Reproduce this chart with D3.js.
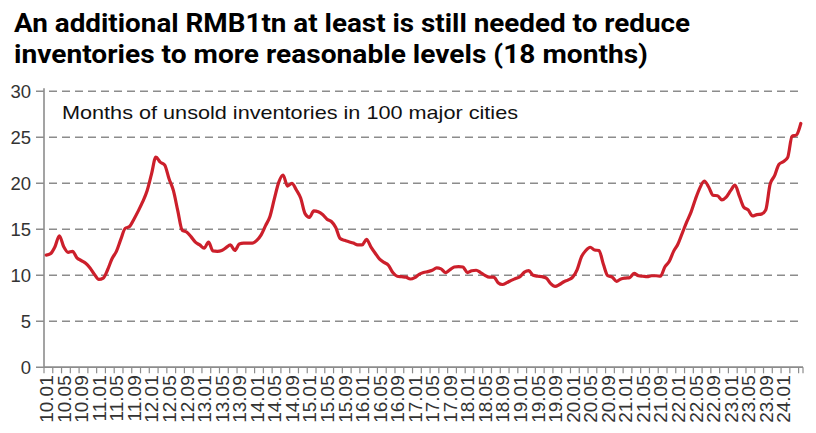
<!DOCTYPE html>
<html><head><meta charset="utf-8">
<script src="https://cdn.jsdelivr.net/npm/d3@7"></script>
<style>body{margin:0;background:#fff}svg{display:block}</style>
</head><body><svg id="c" width="816" height="433"></svg>
<script>
const title = ["An additional RMB1tn at least is still needed to reduce","inventories to more reasonable levels (18 months)"];
const note = "Months of unsold inventories in 100 major cities";
const years = [2010,2011,2012,2013,2014,2015,2016,2017,2018,2019,2020,2021,2022,2023,2024];
const v2010 = [12.2,12.35,13.1,14.3,13.1,12.5,12.6,11.9,11.6,11.3,10.8,10.1];
const v2011 = [9.55,9.7,10.6,11.8,12.6,13.9,15.1,15.3,16.1,17.0,18.0,19.2];
const v2012 = [21.0,22.85,22.3,22.0,20.5,19.2,17.0,14.9,14.7,14.2,13.6,13.3];
const v2013 = [12.95,13.6,12.65,12.6,12.7,13.0,13.3,12.7,13.4,13.5,13.5,13.5];
const v2014 = [13.8,14.4,15.4,16.4,18.3,20.1,20.9,19.7,20.0,19.3,18.4,16.7];
const v2015 = [16.3,17.0,16.9,16.6,16.1,15.85,15.2,14.0,13.8,13.65,13.5,13.3];
const v2016 = [13.3,13.9,13.1,12.4,11.75,11.4,11.1,10.3,9.9,9.85,9.8,9.6];
const v2017 = [9.75,10.1,10.3,10.4,10.55,10.8,10.7,10.3,10.6,10.9,10.95,10.9];
const v2018 = [10.3,10.5,10.55,10.3,10.0,9.8,9.8,9.2,9.0,9.2,9.45,9.65];
const v2019 = [9.85,10.35,10.5,10.0,9.9,9.85,9.7,9.1,8.8,9.0,9.3,9.5];
const v2020 = [9.8,10.6,12.0,12.7,13.05,12.75,12.7,11.2,9.95,9.8,9.35,9.6];
const v2021 = [9.7,9.75,10.2,9.95,9.9,9.85,9.95,9.95,9.9,10.9,11.5,12.6];
const v2022 = [13.4,14.6,15.8,16.9,18.3,19.5,20.25,19.6,18.7,18.65,18.2,18.5];
const v2023 = [19.2,19.8,18.6,17.4,17.1,16.45,16.6,16.65,17.1,19.9,20.8,22.05];
const v2024 = [22.35,22.8,25.1,25.25,26.5];
const yTicks = [0,5,10,15,20,25,30];
const xTickLabels = ["10.01","10.05","10.09","11.01","11.05","11.09","12.01","12.05","12.09","13.01","13.05","13.09","14.01","14.05","14.09","15.01","15.05","15.09","16.01","16.05","16.09","17.01","17.05","17.09","18.01","18.05","18.09","19.01","19.05","19.09","20.01","20.05","20.09","21.01","21.05","21.09","22.01","22.05","22.09","23.01","23.05","23.09","24.01"];

const series = [v2010,v2011,v2012,v2013,v2014,v2015,v2016,v2017,v2018,v2019,v2020,v2021,v2022,v2023,v2024];
const data = [];
series.forEach((arr,yi)=>arr.forEach((v,mi)=>{
  const key = String(years[yi]%100).padStart(2,"0")+"."+String(mi+1).padStart(2,"0");
  data.push({key, v});
}));

const svg = d3.select("#c");
const L = 44, R = 803, T = 91.3, B = 367.3;
const x = d3.scaleBand().domain(data.map(d=>d.key)).range([L,R]).paddingInner(0).paddingOuter(0);
const y = d3.scaleLinear().domain([0,30]).range([B,T]);
const sans = "'Liberation Sans', Arial, sans-serif";
const titleWidths = [676, 634];

// title
svg.append("g").selectAll("text").data(title).join("text")
  .attr("x",14).attr("y",(d,i)=>32+i*30.5)
  .attr("font-family","Roboto, 'Noto Sans', sans-serif").attr("font-weight","bold")
  .attr("font-size",26).attr("fill","#000")
  .attr("textLength",(d,i)=>titleWidths[i]).attr("lengthAdjust","spacingAndGlyphs")
  .text(d=>d);

// gridlines + y labels
const gy = svg.append("g");
gy.selectAll("line").data(yTicks).join("line")
  .attr("x1",36).attr("x2",R).attr("y1",d=>y(d)).attr("y2",d=>y(d))
  .attr("stroke","#8c8c8c").attr("stroke-width",1.6)
  .attr("stroke-dasharray",d=>d===0?null:"8,5");
gy.selectAll("text").data(yTicks).join("text")
  .attr("x",31).attr("y",d=>y(d)+6.5).attr("text-anchor","end")
  .attr("font-family",sans).attr("font-size",18.5)
  .attr("fill","#333").text(d=>d);

// y axis line
svg.append("line").attr("x1",L).attr("x2",L).attr("y1",T-3).attr("y2",B)
  .attr("stroke","#8c8c8c").attr("stroke-width",1.6);

// x axis
const xAxis = svg.append("g");
xAxis.append("line").attr("x1",L).attr("x2",R).attr("y1",B).attr("y2",B)
  .attr("stroke","#8c8c8c").attr("stroke-width",1.6);
const edgeKeys = data.filter((d,i)=>i%2===0).map(d=>d.key);
xAxis.selectAll("line.t").data(edgeKeys).join("line").attr("class","t")
  .attr("x1",d=>x(d)).attr("x2",d=>x(d)).attr("y1",B).attr("y2",B+6)
  .attr("stroke","#8c8c8c").attr("stroke-width",1.2);
xAxis.append("line").attr("x1",R).attr("x2",R).attr("y1",B).attr("y2",B+6)
  .attr("stroke","#8c8c8c").attr("stroke-width",1.2);
xAxis.selectAll("text").data(xTickLabels).join("text")
  .attr("transform",d=>`translate(${x(d)+x.bandwidth()/2+7},${B+8}) rotate(-90)`)
  .attr("text-anchor","end")
  .attr("font-family",sans).attr("font-size",19)
  .attr("fill","#333").text(d=>d);

// note
svg.append("text").attr("x",62).attr("y",119)
  .attr("font-family",sans).attr("font-size",19)
  .attr("textLength",456).attr("lengthAdjust","spacingAndGlyphs")
  .attr("fill","#111").text(note);

// line
const line = d3.line().x(d=>x(d.key)+x.bandwidth()/2).y(d=>y(d.v)).curve(d3.curveMonotoneX);
svg.append("path").datum(data).attr("d",line)
  .attr("fill","none").attr("stroke","#cc1f2b").attr("stroke-width",3.2)
  .attr("stroke-linejoin","round").attr("stroke-linecap","round");
</script></body></html>
